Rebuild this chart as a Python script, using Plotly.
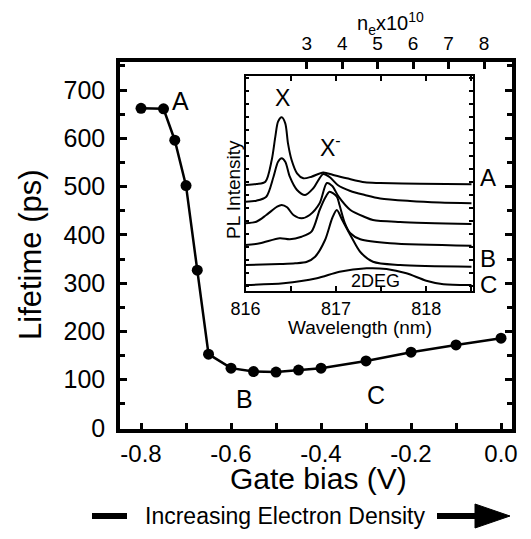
import plotly.graph_objects as go

# ---------------- data ----------------
gate_bias = [-0.80, -0.75, -0.725, -0.70, -0.675, -0.65, -0.60, -0.55, -0.50,
             -0.45, -0.40, -0.30, -0.20, -0.10, 0.0]
lifetime = [662, 661, 596, 502, 327, 153, 124, 117, 116, 120, 124, 139, 157, 172, 186]

x_tick_vals = [-0.8, -0.6, -0.4, -0.2, 0.0]
x_tick_text = ["-0.8", "-0.6", "-0.4", "-0.2", "0.0"]

ne_ticks = [3, 4, 5, 6, 7, 8]
ne_range = [-2.265, 8.789]

# inset PL spectra (wavelength nm, intensity arb. units, offset)
wl_A = [816.00, 816.12, 816.22, 816.29, 816.33, 816.36, 816.40, 816.44, 816.47, 816.51,
        816.57, 816.64, 816.73, 816.86, 816.97, 817.12, 817.32, 817.49, 817.93, 818.50]
pl_A = [10.57, 10.67, 10.90, 13.07, 15.40, 16.90, 17.34, 16.74, 14.74, 13.07,
        11.74, 11.24, 11.40, 11.82, 11.57, 11.24, 10.84, 10.77, 10.69, 10.64]

wl_2 = [816.00, 816.12, 816.23, 816.31, 816.36, 816.40, 816.44, 816.49, 816.57, 816.66,
        816.75, 816.86, 816.93, 817.02, 817.16, 817.32, 817.49, 817.82, 818.15, 818.50]
pl_2 = [8.90, 9.00, 9.40, 11.40, 12.90, 13.24, 12.90, 11.40, 10.07, 9.57,
        10.24, 11.67, 11.37, 10.57, 9.97, 9.57, 9.22, 8.97, 8.82, 8.74]

wl_3 = [816.00, 816.12, 816.23, 816.35, 816.40, 816.46, 816.53, 816.62, 816.71, 816.82,
        816.90, 816.96, 817.03, 817.16, 817.32, 817.41, 817.71, 818.50]
pl_3 = [6.74, 6.90, 7.57, 8.40, 8.57, 8.34, 7.57, 7.24, 7.57, 8.74,
        10.77, 10.47, 9.40, 8.07, 7.37, 7.07, 6.87, 6.67]

wl_4 = [816.00, 816.16, 816.38, 816.49, 816.62, 816.73, 816.82, 816.88, 816.93, 817.01,
        817.04, 817.10, 817.16, 817.27, 817.60, 818.50]
pl_4 = [4.57, 4.74, 5.24, 5.14, 5.40, 5.90, 8.07, 9.27, 9.90, 9.40,
        8.57, 6.74, 5.74, 5.14, 4.74, 4.50]

wl_B = [816.00, 816.38, 816.55, 816.68, 816.77, 816.88, 816.96, 817.01, 817.07, 817.17,
        817.27, 817.41, 817.71, 818.50]
pl_B = [2.57, 2.67, 2.74, 2.90, 3.40, 5.07, 7.27, 8.07, 7.07, 5.40,
        3.87, 2.90, 2.57, 2.40]

wl_C = [816.00, 816.42, 816.79, 817.04, 817.34, 817.56, 817.78, 818.00, 818.19, 818.50]
pl_C = [0.57, 0.74, 1.24, 1.90, 2.24, 2.17, 1.74, 1.00, 0.64, 0.57]

spectra = [(wl_A, pl_A), (wl_2, pl_2), (wl_3, pl_3), (wl_4, pl_4), (wl_B, pl_B), (wl_C, pl_C)]

# ---------------- layout helpers ----------------
PAGE_W, PAGE_H = 531, 539
OFF = 8                      # default body margin of the html page
W, H = PAGE_W - OFF, PAGE_H - OFF
L, R, T, B = 120, 512, 62, 429   # plot area in page pixels
FONT = "Liberation Sans, Arial, sans-serif"


def px(x):
    return (x - L) / (R - L)


def py(y):
    return (B - y) / (B - T)


fig = go.Figure()

fig.add_trace(go.Scatter(
    x=gate_bias, y=lifetime, mode="lines+markers",
    line=dict(color="black", width=2.5),
    marker=dict(color="black", size=11),
    showlegend=False, hoverinfo="skip"))

# invisible trace so the top (density) axis is drawn
fig.add_trace(go.Scatter(x=ne_range, y=[None, None], xaxis="x2", yaxis="y",
                         mode="markers", showlegend=False, hoverinfo="skip"))

for wl, pl in spectra:
    fig.add_trace(go.Scatter(
        x=wl, y=pl, xaxis="x3", yaxis="y3", mode="lines",
        line=dict(color="black", width=2, shape="spline", smoothing=0.8),
        showlegend=False, hoverinfo="skip"))

fig.update_layout(
    width=W, height=H,
    margin=dict(l=L - OFF, r=PAGE_W - R, t=T - OFF, b=PAGE_H - B, pad=0),
    paper_bgcolor="white", plot_bgcolor="white",
    font=dict(family=FONT, color="black"),
    xaxis=dict(range=[-0.8467, 0.0244], tickvals=x_tick_vals, ticktext=x_tick_text,
               ticks="inside", ticklen=6, tickwidth=2.5, tickcolor="black",
               minor=dict(dtick=0.1, tick0=-0.8, ticks="inside", ticklen=6,
                          tickwidth=2.5, tickcolor="black"),
               showline=True, linewidth=3.5, linecolor="black", mirror=True,
               showgrid=False, zeroline=False,
               tickfont=dict(size=24, family=FONT), ticklabelstandoff=0),
    yaxis=dict(range=[-2, 758], tick0=0, dtick=100,
               ticks="inside", ticklen=7, tickwidth=2.5, tickcolor="black",
               minor=dict(dtick=50, ticks="inside", ticklen=5, tickwidth=2.5, tickcolor="black"),
               showline=True, linewidth=3.5, linecolor="black", mirror="ticks",
               showgrid=False, zeroline=False,
               tickfont=dict(size=25, family=FONT), ticklabelstandoff=6),
    xaxis2=dict(overlaying="x", side="top", anchor="y", range=ne_range,
                tickvals=ne_ticks, ticks="inside", ticklen=7, tickwidth=2.5,
                tickcolor="black", showline=False, showgrid=False, zeroline=False,
                tickfont=dict(size=19, family=FONT), ticklabelstandoff=7),
    xaxis3=dict(domain=[px(245.5), px(473.3)], anchor="y3", range=[816, 818.52],
                tickvals=[816, 817, 818], ticks="inside", ticklen=5, tickwidth=1.5,
                tickcolor="black",
                minor=dict(dtick=0.5, ticks="inside", ticklen=5, tickwidth=1.5, tickcolor="black"),
                showline=True, linewidth=1.8, linecolor="black", mirror="ticks",
                showgrid=False, zeroline=False,
                tickfont=dict(size=18, family=FONT), ticklabelstandoff=1),
    yaxis3=dict(domain=[py(290.7), py(76)], anchor="x3", range=[0, 21.47],
                tick0=0.5, dtick=1.3, ticks="inside", ticklen=4, tickwidth=1.5,
                tickcolor="black", showticklabels=False,
                showline=True, linewidth=1.8, linecolor="black", mirror="ticks",
                showgrid=False, zeroline=False),
)

# inset background
fig.add_shape(type="rect", xref="paper", yref="paper",
              x0=px(245.5), x1=px(473.3), y0=py(290.7), y1=py(76),
              fillcolor="white", line=dict(width=0), layer="below")


def ann(text, x, y, size, angle=0):
    fig.add_annotation(text=text, x=px(x), y=py(y), xref="paper", yref="paper",
                       showarrow=False, xanchor="center", yanchor="middle",
                       textangle=angle, font=dict(size=size, family=FONT, color="black"))


ann("Lifetime (ps)", 30, 255, 31, -90)
ann("Gate bias (V)", 318, 478, 30)
ann("n<sub>e</sub>x10<sup>10</sup>", 390, 23, 20)
ann("A", 180, 101, 25)
ann("B", 244, 399, 25)
ann("C", 376, 395, 25)
ann("X", 282, 98, 23)
ann("X<sup>-</sup>", 330, 146, 23)
ann("A", 488, 177, 24)
ann("B", 488, 258, 24)
ann("C", 488, 284, 24)
ann("2DEG", 375, 281, 18)
ann("PL Intensity", 233, 190, 19, -90)
ann("Wavelength (nm)", 360, 327, 19)
ann("Increasing Electron Density", 285, 516, 23)

# bottom direction indicator
fig.add_shape(type="line", xref="paper", yref="paper",
              x0=px(92), x1=px(127), y0=py(516), y1=py(516),
              line=dict(color="black", width=6))
fig.add_shape(type="line", xref="paper", yref="paper",
              x0=px(437), x1=px(478), y0=py(516), y1=py(516),
              line=dict(color="black", width=6))
fig.add_shape(type="path", xref="paper", yref="paper",
              path=f"M {px(475)} {py(504)} L {px(510)} {py(516)} L {px(475)} {py(528)} Z",
              fillcolor="black", line=dict(color="black", width=1))

fig.write_html("out.html")
